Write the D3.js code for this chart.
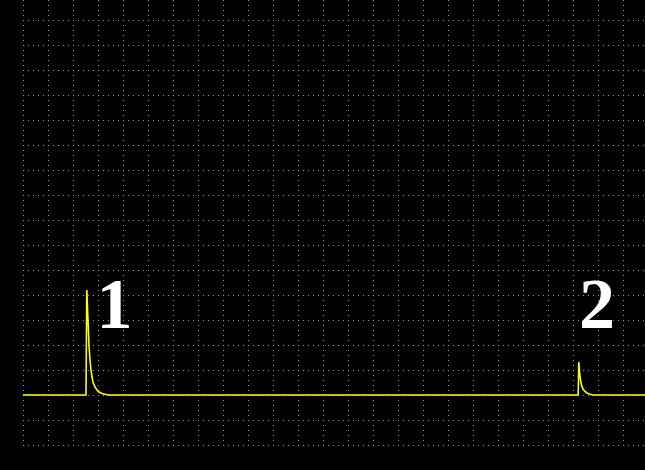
<!DOCTYPE html>
<html>
<head>
<meta charset="utf-8">
<script src="https://cdn.jsdelivr.net/npm/d3@7"></script>
<style>
  html, body { margin: 0; padding: 0; background: #000; }
  svg { display: block; }
</style>
</head>
<body>
<svg id="chart" width="645" height="470"></svg>
<script>
// Time in grid divisions, signal in grid divisions above baseline
const times = [0, 2.52, 2.552, 2.6, 2.64, 2.68, 2.72, 2.76, 2.8, 2.88, 2.96, 3.04, 3.16, 3.32, 3.44,
               22.208, 22.232, 22.26, 22.30, 22.34, 22.40, 22.48, 22.56, 22.68, 22.80, 25];
const values = [0, 0, 4.2, 3.0, 2.0, 1.4, 1.0, 0.72, 0.52, 0.32, 0.2, 0.12, 0.06, 0.02, 0,
                0, 1.32, 0.92, 0.6, 0.4, 0.24, 0.14, 0.08, 0.03, 0, 0];
const xTicks = d3.range(0, 26);
const yTicks = d3.range(-2, 16);
const peakLabels = ["1", "2"];
const peakLabelTimes = [3.66, 22.96];
const peakLabelValues = [2.68, 2.68];

const svg = d3.select("#chart");
const W = 645, H = 470;
svg.append("rect").attr("width", W).attr("height", H).attr("fill", "#000");

const x = d3.scaleLinear().domain([0, 25]).range([23, 648]);
const y = d3.scaleLinear().domain([-2, 15]).range([445, 20]);

const grid = svg.append("g").attr("shape-rendering", "crispEdges");
grid.selectAll("line.v").data(xTicks).join("line")
  .attr("class", "v")
  .attr("x1", d => Math.round(x(d)) + 0.5).attr("x2", d => Math.round(x(d)) + 0.5)
  .attr("y1", 0).attr("y2", y(-2) + 1)
  .attr("stroke", "#9a9a9a").attr("stroke-width", 1)
  .attr("stroke-dasharray", "1,4");
grid.selectAll("line.h").data(yTicks).join("line")
  .attr("class", "h")
  .attr("y1", d => Math.round(y(d)) + 0.5).attr("y2", d => Math.round(y(d)) + 0.5)
  .attr("x1", x(0)).attr("x2", W + 5)
  .attr("stroke", "#9a9a9a").attr("stroke-width", 1)
  .attr("stroke-dasharray", "1,4");

const pts = times.map((t, i) => [t, values[i]]);
const line = d3.line().x(d => x(d[0])).y(d => y(d[1]));
svg.append("path").datum(pts)
  .attr("d", line)
  .attr("fill", "none")
  .attr("stroke", "#ffff00")
  .attr("stroke-width", 1.6)
  .attr("stroke-linejoin", "miter");

svg.selectAll("text.lbl").data(peakLabels).join("text")
  .attr("class", "lbl")
  .attr("x", (d, i) => x(peakLabelTimes[i]))
  .attr("y", (d, i) => y(peakLabelValues[i]))
  .attr("text-anchor", "middle")
  .attr("font-family", "'Liberation Serif', 'Times New Roman', serif")
  .attr("font-weight", "bold")
  .attr("font-size", 72)
  .attr("fill", "#fff")
  .text(d => d);
</script>
</body>
</html>
